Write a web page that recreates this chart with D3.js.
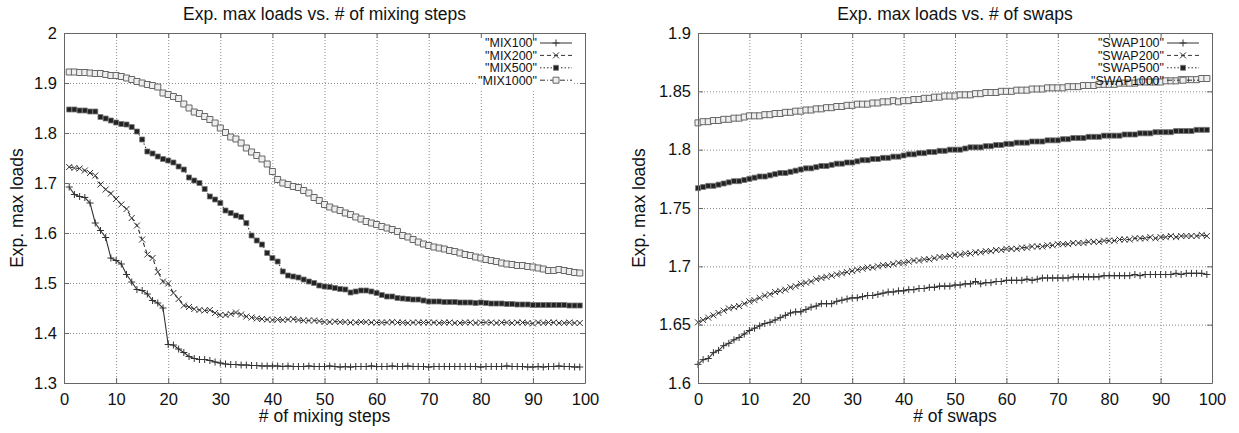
<!DOCTYPE html>
<html>
<head>
<meta charset="utf-8">
<script src="https://cdnjs.cloudflare.com/ajax/libs/d3/7.8.5/d3.min.js"></script>
<style>
body{margin:0;background:#fff;}
text{font-family:"Liberation Sans",Arial,Helvetica,sans-serif;fill:#111;}
.grid line{stroke:#8c8c8c;stroke-dasharray:1,2;}
.grid path{display:none;}
.ticks line{stroke:#666;}
.ticks path{stroke:#666;}
.labels path{display:none;}
</style>
</head>
<body>
<div id="main"></div>
<script>
// ---- data ----
var mixSteps=[1,2,3,4,5,6,7,8,9,10,11,12,13,14,15,16,17,18,19,20,21,22,23,24,25,26,27,28,29,30,31,32,33,34,35,36,37,38,39,40,41,42,43,44,45,46,47,48,49,50,51,52,53,54,55,56,57,58,59,60,61,62,63,64,65,66,67,68,69,70,71,72,73,74,75,76,77,78,79,80,81,82,83,84,85,86,87,88,89,90,91,92,93,94,95,96,97,98,99];
var swaps=[0,1,2,3,4,5,6,7,8,9,10,11,12,13,14,15,16,17,18,19,20,21,22,23,24,25,26,27,28,29,30,31,32,33,34,35,36,37,38,39,40,41,42,43,44,45,46,47,48,49,50,51,52,53,54,55,56,57,58,59,60,61,62,63,64,65,66,67,68,69,70,71,72,73,74,75,76,77,78,79,80,81,82,83,84,85,86,87,88,89,90,91,92,93,94,95,96,97,98,99];

var mix100=[1.692,1.677,1.673,1.671,1.660,1.620,1.605,1.591,1.550,1.545,1.538,1.517,1.502,1.487,1.485,1.478,1.465,1.460,1.450,1.377,
1.376,1.368,1.361,1.353,1.349,1.347,1.347,1.345,1.342,1.340,1.338,1.337,1.337,1.336,1.336,1.335,1.335,1.334,1.334,1.334,
1.334,1.333,1.334,1.333,1.333,1.333,1.334,1.333,1.333,1.333,1.334,1.333,1.332,1.333,1.332,1.333,1.333,1.333,1.334,1.333,
1.333,1.333,1.334,1.333,1.333,1.334,1.333,1.333,1.333,1.332,1.333,1.333,1.333,1.333,1.333,1.333,1.333,1.333,1.333,1.332,
1.333,1.333,1.333,1.333,1.334,1.333,1.333,1.333,1.332,1.332,1.333,1.332,1.333,1.333,1.334,1.333,1.333,1.332,1.332];
var mix200=[1.732,1.730,1.729,1.725,1.720,1.715,1.697,1.687,1.679,1.668,1.657,1.648,1.630,1.615,1.587,1.557,1.550,1.522,1.503,1.499,
1.480,1.468,1.455,1.452,1.448,1.446,1.445,1.446,1.440,1.436,1.436,1.438,1.441,1.437,1.433,1.431,1.429,1.428,1.427,1.426,
1.427,1.426,1.427,1.428,1.426,1.425,1.425,1.425,1.424,1.422,1.422,1.423,1.422,1.422,1.421,1.421,1.422,1.422,1.421,1.421,
1.421,1.421,1.422,1.421,1.421,1.420,1.421,1.421,1.421,1.421,1.421,1.420,1.421,1.421,1.420,1.420,1.421,1.421,1.420,1.421,
1.421,1.421,1.420,1.421,1.421,1.420,1.421,1.421,1.420,1.419,1.421,1.420,1.421,1.421,1.420,1.420,1.421,1.420,1.420];
var mix500=[1.847,1.847,1.845,1.845,1.843,1.843,1.832,1.829,1.825,1.821,1.818,1.817,1.812,1.803,1.787,1.763,1.759,1.753,1.748,1.745,
1.741,1.733,1.727,1.711,1.705,1.700,1.688,1.673,1.667,1.660,1.645,1.640,1.635,1.632,1.620,1.595,1.585,1.577,1.560,1.550,
1.543,1.523,1.515,1.513,1.511,1.507,1.503,1.500,1.495,1.493,1.492,1.490,1.488,1.487,1.481,1.483,1.485,1.485,1.483,1.480,
1.476,1.473,1.473,1.470,1.469,1.468,1.467,1.467,1.465,1.463,1.463,1.463,1.462,1.462,1.462,1.461,1.461,1.461,1.460,1.461,
1.460,1.459,1.459,1.459,1.458,1.458,1.457,1.457,1.457,1.456,1.456,1.456,1.456,1.456,1.456,1.456,1.455,1.455,1.455];
var mix1000=[1.922,1.922,1.921,1.921,1.920,1.919,1.919,1.917,1.915,1.915,1.913,1.910,1.907,1.903,1.900,1.897,1.895,1.892,1.880,1.877,
1.873,1.869,1.858,1.850,1.842,1.839,1.833,1.827,1.820,1.810,1.801,1.792,1.788,1.780,1.770,1.762,1.755,1.748,1.738,1.723,
1.707,1.700,1.697,1.693,1.691,1.685,1.680,1.671,1.665,1.657,1.652,1.648,1.645,1.640,1.637,1.632,1.628,1.623,1.620,1.617,
1.613,1.610,1.607,1.603,1.595,1.592,1.587,1.582,1.578,1.575,1.572,1.570,1.568,1.565,1.563,1.560,1.557,1.555,1.552,1.550,
1.547,1.545,1.543,1.540,1.538,1.537,1.535,1.535,1.533,1.532,1.530,1.528,1.525,1.525,1.527,1.525,1.523,1.521,1.520];

var swap100=[1.616,1.620,1.621,1.626,1.628,1.632,1.634,1.637,1.639,1.642,1.645,1.647,1.649,1.651,1.652,1.654,1.656,1.658,1.660,1.661,
1.661,1.663,1.665,1.666,1.668,1.668,1.668,1.670,1.671,1.672,1.673,1.673,1.674,1.675,1.675,1.676,1.677,1.678,1.678,1.679,
1.679,1.680,1.680,1.681,1.681,1.682,1.682,1.683,1.683,1.683,1.684,1.684,1.685,1.685,1.687,1.685,1.686,1.686,1.687,1.687,
1.688,1.688,1.688,1.688,1.689,1.688,1.689,1.690,1.690,1.690,1.690,1.690,1.690,1.691,1.691,1.691,1.691,1.691,1.691,1.692,
1.692,1.692,1.692,1.692,1.692,1.693,1.692,1.693,1.693,1.693,1.693,1.693,1.693,1.694,1.693,1.694,1.694,1.694,1.694,1.693];
var swap200=[1.652,1.654,1.656,1.658,1.660,1.662,1.664,1.665,1.666,1.668,1.670,1.671,1.673,1.675,1.676,1.678,1.679,1.680,1.682,1.683,
1.685,1.686,1.687,1.689,1.690,1.691,1.692,1.693,1.694,1.695,1.696,1.697,1.698,1.699,1.699,1.700,1.701,1.701,1.702,1.703,
1.703,1.704,1.705,1.705,1.706,1.706,1.707,1.708,1.708,1.709,1.710,1.710,1.711,1.711,1.712,1.712,1.713,1.713,1.714,1.714,
1.715,1.715,1.715,1.716,1.716,1.717,1.717,1.717,1.718,1.718,1.719,1.719,1.719,1.720,1.720,1.720,1.721,1.721,1.721,1.722,
1.722,1.722,1.723,1.723,1.723,1.724,1.724,1.724,1.725,1.724,1.725,1.725,1.726,1.725,1.726,1.726,1.726,1.726,1.727,1.726];
var swap500=[1.767,1.768,1.769,1.769,1.770,1.771,1.772,1.773,1.773,1.774,1.775,1.776,1.777,1.777,1.778,1.779,1.780,1.780,1.781,1.782,
1.783,1.784,1.784,1.785,1.786,1.786,1.787,1.788,1.788,1.789,1.789,1.790,1.791,1.791,1.792,1.792,1.793,1.793,1.794,1.794,
1.795,1.796,1.796,1.797,1.797,1.798,1.798,1.799,1.799,1.800,1.800,1.800,1.801,1.802,1.802,1.802,1.803,1.803,1.804,1.804,
1.805,1.805,1.806,1.806,1.806,1.807,1.807,1.807,1.808,1.808,1.808,1.809,1.809,1.810,1.810,1.810,1.811,1.811,1.811,1.812,
1.812,1.812,1.812,1.813,1.813,1.813,1.814,1.814,1.814,1.815,1.815,1.815,1.815,1.816,1.816,1.816,1.816,1.817,1.817,1.817];
var swap1000=[1.823,1.824,1.824,1.825,1.825,1.826,1.826,1.827,1.827,1.828,1.829,1.829,1.829,1.830,1.830,1.831,1.831,1.832,1.832,1.833,
1.833,1.834,1.834,1.835,1.835,1.836,1.836,1.837,1.837,1.838,1.838,1.839,1.839,1.839,1.840,1.840,1.841,1.841,1.842,1.841,
1.842,1.842,1.843,1.843,1.844,1.844,1.845,1.845,1.846,1.846,1.846,1.847,1.847,1.847,1.848,1.848,1.849,1.849,1.849,1.850,
1.850,1.850,1.851,1.851,1.851,1.852,1.852,1.852,1.853,1.853,1.853,1.853,1.854,1.854,1.854,1.855,1.855,1.855,1.856,1.856,
1.856,1.856,1.857,1.857,1.857,1.857,1.858,1.858,1.858,1.858,1.858,1.859,1.859,1.859,1.860,1.860,1.860,1.860,1.861,1.861];

var mixNames=['"MIX100"','"MIX200"','"MIX500"','"MIX1000"'];
var swapNames=['"SWAP100"','"SWAP200"','"SWAP500"','"SWAP1000"'];
var xTicks=[0,10,20,30,40,50,60,70,80,90,100];
var mixYTicks=[1.3,1.4,1.5,1.6,1.7,1.8,1.9,2];
var swapYTicks=[1.6,1.65,1.7,1.75,1.8,1.85,1.9];

// gnuplot-ish point / line styles
var styles=[
  {pt:'M-3.5,0H3.5M0,-3.5V3.5',dash:null,pc:'#333',pw:1,fill:'none'},
  {pt:'M-3,-3L3,3M-3,3L3,-3',dash:'4,3',pc:'#333',pw:1,fill:'none'},
  {pt:'M-2.5,-2.5H2.5V2.5H-2.5Z',dash:'1.5,2',pc:'#777',pw:0.8,fill:'#222'},
  {pt:'M-3,-3H3V3H-3Z',dash:'5,2,1,2',pc:'#666',pw:1,fill:'#eee'}
];

var svg=d3.select('#main').append('svg').attr('width',1239).attr('height',433);

function panel(o){
  var w=o.x1-o.x0, h=o.y1-o.y0;
  var x=d3.scaleLinear().domain([0,100]).range([0,w]);
  var y=d3.scaleLinear().domain(o.yDomain).range([h,0]);
  var g=svg.append('g').attr('transform','translate('+o.x0+','+o.y0+')');

  // grid
  g.append('g').attr('class','grid').attr('transform','translate(0,'+h+')')
    .call(d3.axisBottom(x).tickValues(xTicks.slice(1,-1)).tickSize(-h).tickFormat(''));
  g.append('g').attr('class','grid')
    .call(d3.axisLeft(y).tickValues(o.yTicks.slice(1,-1)).tickSize(-w).tickFormat(''));

  var keyBg=g.append('g');
  var plot=g.append('g');

  // border + inward ticks
  g.append('g').attr('class','ticks').attr('transform','translate(0,'+h+')')
    .call(d3.axisBottom(x).tickValues(xTicks).tickSizeInner(-5).tickSizeOuter(0).tickFormat(''));
  g.append('g').attr('class','ticks')
    .call(d3.axisTop(x).tickValues(xTicks).tickSizeInner(-5).tickSizeOuter(0).tickFormat(''));
  g.append('g').attr('class','ticks')
    .call(d3.axisLeft(y).tickValues(o.yTicks).tickSizeInner(-5).tickSizeOuter(0).tickFormat(''));
  g.append('g').attr('class','ticks').attr('transform','translate('+w+',0)')
    .call(d3.axisRight(y).tickValues(o.yTicks).tickSizeInner(-5).tickSizeOuter(0).tickFormat(''));

  // tick labels
  g.append('g').attr('class','labels').attr('transform','translate(0,'+h+')')
    .call(d3.axisBottom(x).tickValues(xTicks).tickSize(0).tickPadding(10))
    .selectAll('text').style('font-size','16.5px');
  g.append('g').attr('class','labels')
    .call(d3.axisLeft(y).tickValues(o.yTicks).tickSize(0).tickPadding(7).tickFormat(d3.format('~g')))
    .selectAll('text').style('font-size','16.5px');

  // titles
  svg.append('text').attr('x',o.x0+w/2).attr('y',20).attr('text-anchor','middle')
    .style('font-size','17.5px').text(o.title);
  svg.append('text').attr('x',o.x0+w/2).attr('y',422).attr('text-anchor','middle')
    .style('font-size','17.5px').text(o.xLabel);
  svg.append('text').attr('transform','translate('+o.yLabelX+','+(o.y0+h/2)+') rotate(-90)')
    .attr('text-anchor','middle').style('font-size','17.5px').text('Exp. max loads');

  var line=d3.line().x(function(d){return x(d[0])}).y(function(d){return y(d[1])});

  o.series.forEach(function(s,i){
    var st=styles[i];
    var pts=o.xs.map(function(v,j){return [v,s[j]]});
    plot.append('path').datum(pts).attr('d',line)
      .attr('fill','none').attr('stroke','#333').attr('stroke-width',1.1)
      .attr('stroke-dasharray',st.dash);
    plot.selectAll('.p'+i).data(pts).enter().append('path')
      .attr('transform',function(d){return 'translate('+x(d[0])+','+y(d[1])+')'})
      .attr('d',st.pt).attr('fill',st.fill)
      .attr('stroke',st.pc).attr('stroke-width',st.pw);
  });

  // key
  var key=g.append('g').attr('transform','translate('+(w-48)+',10)');
  o.names.forEach(function(n,i){
    var st=styles[i], ry=i*12.4;
    key.append('text').attr('x',0).attr('y',ry).attr('dy','0.35em')
      .attr('text-anchor','end').style('font-size','12.5px').text(n);
    key.append('line').attr('x1',3).attr('x2',35).attr('y1',ry).attr('y2',ry)
      .attr('stroke','#333').attr('stroke-dasharray',st.dash);
    key.append('path').attr('transform','translate(19,'+ry+')').attr('d',st.pt)
      .attr('fill',st.fill).attr('stroke',st.pc).attr('stroke-width',st.pw);
  });
  var bb=key.node().getBBox();
  keyBg.append('rect').attr('x',w-48+bb.x-2).attr('y',10+bb.y-2)
    .attr('width',bb.width+4).attr('height',bb.height+4).attr('fill','#fff');
}

panel({x0:64,x1:585,y0:33,y1:383,yDomain:[1.3,2],yTicks:mixYTicks,xs:mixSteps,
  series:[mix100,mix200,mix500,mix1000],names:mixNames,
  title:'Exp. max loads vs. # of mixing steps',xLabel:'# of mixing steps',yLabelX:23});
panel({x0:698,x1:1212,y0:33,y1:383,yDomain:[1.6,1.9],yTicks:swapYTicks,xs:swaps,
  series:[swap100,swap200,swap500,swap1000],names:swapNames,
  title:'Exp. max loads vs. # of swaps',xLabel:'# of swaps',yLabelX:645});
</script>
</body>
</html>
